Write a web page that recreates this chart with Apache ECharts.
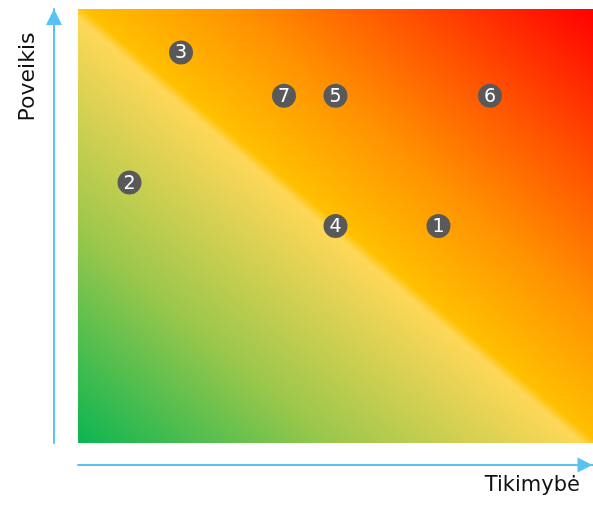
<!DOCTYPE html>
<html>
<head>
<meta charset="utf-8">
<script src="https://cdn.jsdelivr.net/npm/echarts@6/dist/echarts.min.js"></script>
<style>
html,body{margin:0;padding:0;background:#fff;}
#chart{width:593px;height:507px;}
</style>
</head>
<body>
<div id="chart"></div>
<script>
// Data
const riskIds = ['1', '2', '3', '4', '5', '6', '7'];
const likelihood = [7, 1, 2, 5, 5, 8, 4];   // Tikimybė
const impact = [5, 6, 9, 5, 8, 8, 8];       // Poveikis
const xName = 'Tikimybė';
const yName = 'Poveikis';

const points = riskIds.map((id, i) => [likelihood[i], impact[i], id]);

// grid geometry (style)
const GL = 78, GT = 9, GW = 515, GH = 434;
const W = 593, Hh = 507;
// gradient: isolines parallel to the top-left -> bottom-right diagonal
const d2 = GW * GW + GH * GH;
const gx2 = 2 * GH * GH / d2;
const gy2 = 1 - 2 * GW * GW / d2;

const axisColor = '#57C3F0';
const font = 'DejaVu Sans';

const chart = echarts.init(document.getElementById('chart'), null, {renderer: 'canvas'});
chart.setOption({
  animation: false,
  backgroundColor: '#ffffff',
  grid: {
    left: GL, top: GT, right: W - GL - GW, bottom: Hh - GT - GH,
    show: true, borderWidth: 0,
    backgroundColor: {
      type: 'linear', x: 0, y: 1, x2: gx2, y2: gy2,
      colorStops: [
        {offset: 0, color: '#0BB552'},
        {offset: 0.25, color: '#9CC74B'},
        {offset: 0.49, color: '#FFD757'},
        {offset: 0.505, color: '#FFC000'},
        {offset: 0.65, color: '#FF9200'},
        {offset: 0.8, color: '#FF5600'},
        {offset: 1, color: '#FF0000'}
      ]
    }
  },
  xAxis: {
    type: 'value', min: 0, max: 10, interval: 1,
    offset: 22,
    name: xName, nameLocation: 'end', nameGap: -13,
    nameTextStyle: {fontFamily: font, fontSize: 21, color: '#111', align: 'right', verticalAlign: 'top', lineHeight: 42},
    axisLine: {show: true, onZero: false, symbol: ['none', 'triangle'], symbolSize: [15, 15], symbolOffset: [0, -8], lineStyle: {color: axisColor, width: 2}},
    axisTick: {show: false}, axisLabel: {show: false}, splitLine: {show: false}
  },
  yAxis: {
    type: 'value', min: 0, max: 10, interval: 1,
    offset: 24,
    name: yName, nameLocation: 'end', nameGap: -68, nameRotate: 90,
    nameTextStyle: {fontFamily: font, fontSize: 22, color: '#111', align: 'center', verticalAlign: 'bottom', lineHeight: 52},
    axisLine: {show: true, onZero: false, symbol: ['none', 'triangle'], symbolSize: [16, 16], symbolOffset: [0, -8], lineStyle: {color: axisColor, width: 2}},
    axisTick: {show: false}, axisLabel: {show: false}, splitLine: {show: false}
  },
  series: [{
    type: 'scatter',
    data: points,
    symbol: 'circle',
    symbolSize: 24,
    itemStyle: {color: '#595959', opacity: 1},
    label: {
      show: true, position: 'inside', offset: [0, 1],
      formatter: p => p.data[2],
      color: '#ffffff', fontFamily: font, fontSize: 19
    },
    emphasis: {disabled: true}
  }]
});
</script>
</body>
</html>
